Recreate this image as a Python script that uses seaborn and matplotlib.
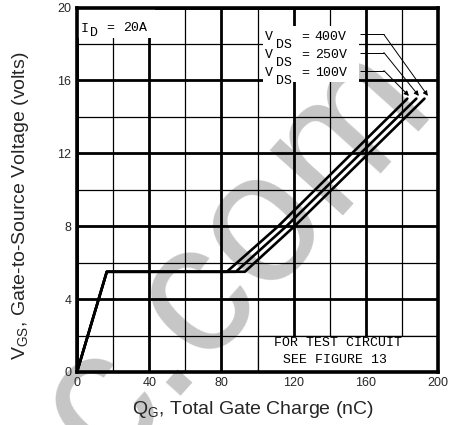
import matplotlib
matplotlib.use("Agg")
import matplotlib.pyplot as plt
import seaborn as sns
import pandas as pd
from matplotlib.patches import Rectangle

# ---- data ----
series_names = ["100V", "250V", "400V"]
qg_100v = [0, 16.5, 83, 111.5, 183]
vgs_100v = [0, 5.5, 5.5, 8.0, 15.0]
qg_250v = [0, 16.5, 88, 116, 188]
vgs_250v = [0, 5.5, 5.5, 8.0, 15.0]
qg_400v = [0, 16.5, 93, 120.5, 192.5]
vgs_400v = [0, 5.5, 5.5, 8.0, 15.0]
x_ticks = [0, 40, 80, 120, 160, 200]
y_ticks = [0, 4, 8, 12, 16, 20]
x_minor = [20, 60, 100, 140, 180]
y_minor = [2, 6, 10, 14, 18]

sns.set_style("white")
plt.rcParams['font.family'] = ['Liberation Sans', 'DejaVu Sans']
plt.rcParams['mathtext.default'] = 'regular'

W, H = 454, 425
fig = plt.figure(figsize=(W / 100, H / 100), dpi=100)
ax = fig.add_axes([77 / W, 1 - 372 / H, 361 / W, 364.5 / H])

frames = []
for name, q, v in [("100V", qg_100v, vgs_100v), ("250V", qg_250v, vgs_250v), ("400V", qg_400v, vgs_400v)]:
    frames.append(pd.DataFrame({"qg": q, "vgs": v, "vds": name}))
df = pd.concat(frames, ignore_index=True)

sns.lineplot(data=df, x="qg", y="vgs", hue="vds", hue_order=series_names,
             palette=["black"] * 3, sort=False, estimator=None, legend=False,
             lw=1.9, ax=ax, zorder=3)

ax.set_xlim(0, 200)
ax.set_ylim(0, 20)
ax.set_xticks(x_ticks)
ax.set_yticks(y_ticks)
ax.set_xticks(x_minor, minor=True)
ax.set_yticks(y_minor, minor=True)
ax.set_xticklabels([str(t) for t in x_ticks])
ax.set_yticklabels([str(t) for t in y_ticks])
ax.grid(which='major', color='black', lw=2.0)
ax.grid(which='minor', color='black', lw=0.9)
ax.set_axisbelow(True)
ax.tick_params(which='both', length=0)
ax.tick_params(axis='x', labelsize=9, pad=3.5)
ax.tick_params(axis='y', labelsize=9, pad=4)
for s in ax.spines.values():
    s.set_linewidth(2.6)
    s.set_color('black')

ax.set_xlabel(r"$Q_G$, Total Gate Charge (nC)", fontsize=14)
ax.set_ylabel(r"$V_{GS}$, Gate-to-Source Voltage (volts)", fontsize=14)
ax.xaxis.set_label_coords(0.486, -0.073)
ax.yaxis.set_label_coords(-0.128, 0.455)

# white label boxes covering the grid
ax.add_patch(Rectangle((0.3, 18.35), 43, 1.6, fc='white', ec='none', zorder=2))
ax.add_patch(Rectangle((103.3, 15.9), 53.2, 3.1, fc='white', ec='none', zorder=2))
ax.add_patch(Rectangle((100, 0), 100, 2, fc='white', ec='black', lw=0.9, zorder=2))

mono = dict(family=['Liberation Mono', 'DejaVu Sans Mono'], fontsize=9.5, color='black',
            ha='center', va='center', zorder=4)

# I_D = 20A
ax.text(4.4, 18.82, "I", **mono)
ax.text(9.3, 18.58, "D", **mono)
ax.text(18.3, 18.88, "=", **mono)
ax.text(32.1, 18.88, "20A", **mono)

# V_DS legend
legend_rows = [("400V", 18.39), ("250V", 17.40), ("100V", 16.41)]
for label, yy in legend_rows:
    ax.text(106.4, yy, "V", **mono)
    ax.text(114.5, yy - 0.43, "DS", **mono)
    ax.text(126.3, yy - 0.03, "=", **mono)
    ax.text(140.6, yy - 0.03, label, **mono)

# leader lines with arrows
leader_y = [18.52, 17.53, 16.54]
leader_tip_x = [194.4, 189.4, 183.9]
for yy, tx in zip(leader_y, leader_tip_x):
    ax.plot([156.7, 170], [yy, yy], color='black', lw=0.7, zorder=4, solid_capstyle='butt')
    ax.annotate('', xy=(tx, 15.15), xytext=(170, yy),
                arrowprops=dict(arrowstyle='-|>', color='black', lw=0.7,
                                mutation_scale=7, shrinkA=0, shrinkB=0), zorder=4)

# test circuit note
ax.text(144.6, 1.59, "FOR TEST CIRCUIT", **mono)
ax.text(142.9, 0.66, "SEE FIGURE 13", **mono)

# watermark
ax.text(0.2326, -0.1066, "c.com", transform=fig.transFigure, rotation=48,
        rotation_mode='anchor', ha='left', va='baseline', fontsize=133,
        family='Liberation Sans', color='#c6c6c6', zorder=0.3, clip_on=False)

fig.savefig("out.png", dpi=100)
